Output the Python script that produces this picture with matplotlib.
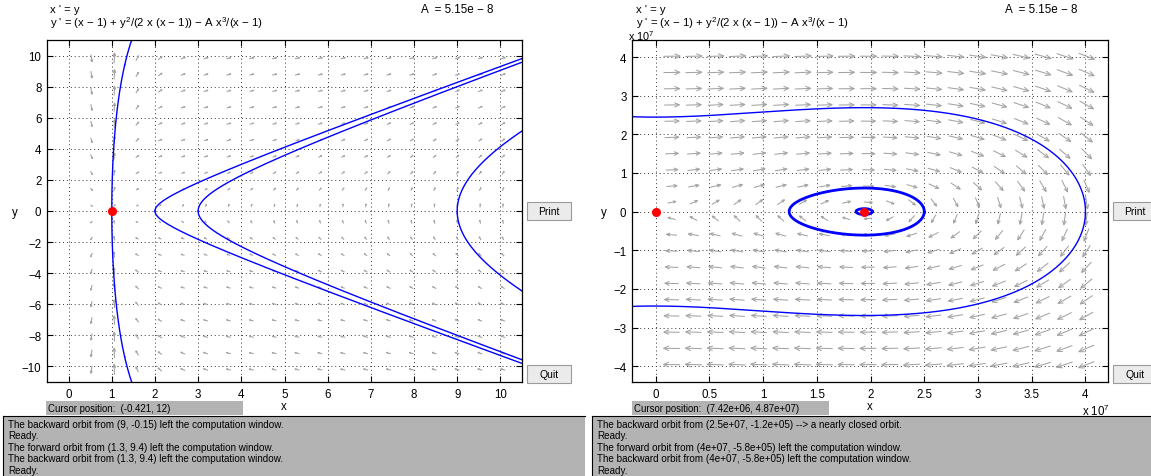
#!/usr/bin/env python3

"""
Two pplane phase-plane windows side by side, same system, two zoom levels.
"""

import math
import numpy as np
import matplotlib
matplotlib.use("Agg")

import matplotlib.pyplot as plt
from matplotlib.collections import LineCollection
from matplotlib.patches import Rectangle

# system parameter shown on the chart
A_PARAM = 5.15e-8

# display windows (right panel in real units, shown as x 10^7)
LEFT_XLIM = (-0.5, 10.5)
LEFT_YLIM = (-11.0, 11.0)
RIGHT_XLIM = (-0.22e7, 4.21e7)
RIGHT_YLIM = (-4.41e7, 4.44e7)

# ticks
LEFT_XTICKS = list(range(0, 11))
LEFT_YTICKS = list(range(-10, 11, 2))
RIGHT_XTICKS = [0, 0.5, 1, 1.5, 2, 2.5, 3, 3.5, 4]
RIGHT_YTICKS = [-4, -3, -2, -1, 0, 1, 2, 3, 4]

# orbit start points
LEFT_SEEDS = [(9.0, -0.15), (2.0, 0.0), (3.0, 0.0), (1.3, 9.4), (1.3, -9.4)]
RIGHT_SEEDS = [(4.0e7, -5.8e5)]
RIGHT_CLOSED_SEEDS = [(2.5e7, -1.2e5), (2.017e7, 0.0)]

# equilibrium points (red dots)
LEFT_EQ = [(1.0, 0.0)]
RIGHT_EQ = [(0.0, 0.0), (1.942e7, 0.0)]

# direction field grid
LEFT_GX = np.linspace(0.53, 10.06, 19)
LEFT_GY = np.linspace(-10.2, 9.83, 20)
RIGHT_GX = np.linspace(0.15e7, 4.01e7, 20)
RIGHT_GY = np.linspace(-3.96e7, 4.02e7, 20)

# text panels
HEADER_1 = "x ' = y"
HEADER_2 = "y ' = (x \u2212 1) + y$^2$/(2 x (x \u2212 1)) \u2212 A x$^3$/(x \u2212 1)"
HEADER_A = "A  = 5.15e \u2212 8"
LEFT_CURSOR = "Cursor position:  (-0.421, 12)"
RIGHT_CURSOR = "Cursor position:  (7.42e+06, 4.87e+07)"
LEFT_MSG = ["The backward orbit from (9, -0.15) left the computation window.",
            "Ready.",
            "The forward orbit from (1.3, 9.4) left the computation window.",
            "The backward orbit from (1.3, 9.4) left the computation window.",
            "Ready."]
RIGHT_MSG = ["The backward orbit from (2.5e+07, -1.2e+05) --> a nearly closed orbit.",
             "Ready.",
             "The forward orbit from (4e+07, -5.8e+05) left the computation window.",
             "The backward orbit from (4e+07, -5.8e+05) left the computation window.",
             "Ready."]

W, H = 1151, 477
PANEL_GREY = "#b3b3b3"
ARROW_GREY = "#a3a3a3"

plt.rcParams["font.family"] = ["Liberation Sans", "DejaVu Sans"]
plt.rcParams["mathtext.fontset"] = "custom"
plt.rcParams["mathtext.rm"] = "Liberation Sans"
plt.rcParams["mathtext.it"] = "Liberation Sans"


def vfield(x, y):
    return y, (x - 1) + y * y / (2 * x * (x - 1)) - A_PARAM * x ** 3 / (x - 1)


def trace(seed, sign, xlim, ylim, stops=(), closed=False, ds=0.001, nmax=9000):
    # RK4 along normalised arc length in window units
    xr = xlim[1] - xlim[0]
    yr = ylim[1] - ylim[0]

    def g(u, v):
        fx, fy = vfield(xlim[0] + u * xr, ylim[0] + v * yr)
        a, b = fx / xr, fy / yr
        n = math.hypot(a, b)
        if n == 0 or not math.isfinite(n):
            return None
        return sign * a / n, sign * b / n

    u = (seed[0] - xlim[0]) / xr
    v = (seed[1] - ylim[0]) / yr
    u0, v0 = u, v
    stops_n = [((sx - xlim[0]) / xr, (sy - ylim[0]) / yr) for sx, sy in stops]
    us, vs = [u], [v]
    for i in range(nmax):
        k1 = g(u, v)
        if k1 is None:
            break
        k2 = g(u + ds / 2 * k1[0], v + ds / 2 * k1[1])
        if k2 is None:
            break
        k3 = g(u + ds / 2 * k2[0], v + ds / 2 * k2[1])
        if k3 is None:
            break
        k4 = g(u + ds * k3[0], v + ds * k3[1])
        if k4 is None:
            break
        u += ds / 6 * (k1[0] + 2 * k2[0] + 2 * k3[0] + k4[0])
        v += ds / 6 * (k1[1] + 2 * k2[1] + 2 * k3[1] + k4[1])
        us.append(u)
        vs.append(v)
        if u < -0.01 or u > 1.01 or v < -0.01 or v > 1.01:
            break
        if any(math.hypot(u - a, v - b) < 0.002 for a, b in stops_n):
            break
        if closed and i > 60 and math.hypot(u - u0, v - v0) < 1.5 * ds:
            break
    xs = xlim[0] + np.array(us) * xr
    ys = ylim[0] + np.array(vs) * yr
    return xs, ys


def arrow_lines(gx, gy, xlim, ylim, ax_px, lmax, power=0.25):
    # matlab-like open arrows, length compressed with magnitude
    sx = ax_px[0] / (xlim[1] - xlim[0])
    sy = ax_px[1] / (ylim[1] - ylim[0])
    X, Y = np.meshgrid(gx, gy)
    with np.errstate(all="ignore"):
        fx, fy = vfield(X, Y)
    px, py = fx * sx, fy * sy
    m = np.hypot(px, py)
    ok = np.isfinite(m) & (m > 0)
    mmax = m[ok].max()
    segs = []
    ang = math.radians(24)
    for cx, cy, ax_, ay_, mm in zip(X[ok], Y[ok], px[ok], py[ok], m[ok]):
        L = lmax * (mm / mmax) ** power
        ux, uy = ax_ / mm, ay_ / mm
        tx, ty = -0.5 * L * ux, -0.5 * L * uy
        hx, hy = 0.5 * L * ux, 0.5 * L * uy
        hb = 0.36 * L
        b1 = (hx - hb * (ux * math.cos(ang) - uy * math.sin(ang)),
              hy - hb * (ux * math.sin(ang) + uy * math.cos(ang)))
        b2 = (hx - hb * (ux * math.cos(ang) + uy * math.sin(ang)),
              hy - hb * (-ux * math.sin(ang) + uy * math.cos(ang)))
        to_d = lambda p: (cx + p[0] / sx, cy + p[1] / sy)
        segs.append([to_d((tx, ty)), to_d((hx, hy))])
        segs.append([to_d(b1), to_d((hx, hy)), to_d(b2)])
    return segs


def fx_(px):
    return px / W


def fy_(py):
    return 1 - py / H


def style_axes(ax, xticks, yticks):
    ax.set_xticks(xticks)
    ax.set_yticks(yticks)
    ax.tick_params(direction="in", top=True, right=True, length=4, width=0.8,
                   labelsize=8.3, pad=4)
    ax.grid(True, color="#333333", linestyle=(0, (1, 3)), linewidth=0.7)
    for s in ax.spines.values():
        s.set_linewidth(0.9)
        s.set_zorder(5)


def button(fig, x0, y0, x1, y1, label):
    fig.add_artist(Rectangle((fx_(x0), fy_(y1)), (x1 - x0) / W, (y1 - y0) / H,
                             transform=fig.transFigure, facecolor="#ebebeb",
                             edgecolor="#9a9a9a", linewidth=0.8))
    fig.text(fx_((x0 + x1) / 2), fy_((y0 + y1) / 2), label, fontsize=7.5,
             ha="center", va="center")


def text_panels(fig, x0, head_a_x, cursor_x0, cursor_x1, msg_x0, msg_x1, cursor, msg):
    fig.text(fx_(x0), fy_(10), HEADER_1, fontsize=8.2, va="center")
    fig.text(fx_(x0), fy_(23), HEADER_2, fontsize=8.2, va="center")
    fig.text(fx_(head_a_x), fy_(10), HEADER_A, fontsize=8.4, va="center")
    fig.add_artist(Rectangle((fx_(cursor_x0), fy_(416)), (cursor_x1 - cursor_x0) / W, 14.5 / H,
                             transform=fig.transFigure, facecolor=PANEL_GREY,
                             edgecolor="none"))
    fig.text(fx_(cursor_x0 + 2), fy_(409), cursor, fontsize=6.9, va="center")
    fig.add_artist(Rectangle((fx_(msg_x0), 0), (msg_x1 - msg_x0) / W, (477 - 416.5) / H,
                             transform=fig.transFigure, facecolor=PANEL_GREY,
                             edgecolor="none"))
    fig.add_artist(plt.Line2D([fx_(msg_x0), fx_(msg_x1)], [fy_(416.5)] * 2,
                              transform=fig.transFigure, color="k", linewidth=0.8))
    fig.add_artist(plt.Line2D([fx_(msg_x0)] * 2, [0, fy_(416.5)],
                              transform=fig.transFigure, color="k", linewidth=0.8))
    for i, line in enumerate(msg):
        fig.text(fx_(msg_x0 + 5), fy_(425 + 11.4 * i), line, fontsize=7.1, va="center")


def main():
    fig = plt.figure(figsize=(W / 100, H / 100), dpi=100)

    # left window
    axl = fig.add_axes([fx_(47), fy_(383), 475 / W, 342 / H])
    axl.set_xlim(LEFT_XLIM)
    axl.set_ylim(LEFT_YLIM)
    style_axes(axl, LEFT_XTICKS, LEFT_YTICKS)
    segs = arrow_lines(LEFT_GX, LEFT_GY, LEFT_XLIM, LEFT_YLIM, (475, 342), 10.5)
    axl.add_collection(LineCollection(segs, colors=ARROW_GREY, linewidths=0.8, zorder=2))
    for seed in LEFT_SEEDS:
        for sign in (1, -1):
            xs, ys = trace(seed, sign, LEFT_XLIM, LEFT_YLIM, stops=LEFT_EQ)
            axl.plot(xs, ys, color="#0000ff", linewidth=1.0, zorder=3)
    for ex, ey in LEFT_EQ:
        axl.plot(ex, ey, "o", color="#ff0000", markersize=5.5, zorder=4)

    # right window, plotted in units of 1e7
    sc = 1e7
    axr = fig.add_axes([fx_(632), fy_(383), 476 / W, 342 / H])
    rxl = (RIGHT_XLIM[0] / sc, RIGHT_XLIM[1] / sc)
    ryl = (RIGHT_YLIM[0] / sc, RIGHT_YLIM[1] / sc)
    axr.set_xlim(rxl)
    axr.set_ylim(ryl)
    style_axes(axr, RIGHT_XTICKS, RIGHT_YTICKS)
    axr.set_xticklabels(["%g" % t for t in RIGHT_XTICKS])
    segs = arrow_lines(RIGHT_GX, RIGHT_GY, RIGHT_XLIM, RIGHT_YLIM, (476, 342), 17)
    segs = [[(p[0] / sc, p[1] / sc) for p in s] for s in segs]
    axr.add_collection(LineCollection(segs, colors=ARROW_GREY, linewidths=0.75, zorder=2))
    for seed in RIGHT_SEEDS:
        for sign in (1, -1):
            xs, ys = trace(seed, sign, RIGHT_XLIM, RIGHT_YLIM)
            axr.plot(xs / sc, ys / sc, color="#0000ff", linewidth=1.0, zorder=3)
    for seed in RIGHT_CLOSED_SEEDS:
        xs, ys = trace(seed, -1, RIGHT_XLIM, RIGHT_YLIM, closed=True, ds=0.0004, nmax=20000)
        axr.plot(xs / sc, ys / sc, color="#0000ff", linewidth=2.0, zorder=3)
    for ex, ey in RIGHT_EQ:
        axr.plot(ex / sc, ey / sc, "o", color="#ff0000", markersize=5.5, zorder=4)

    # axis labels and exponent notes
    fig.text(fx_(15), fy_(213), "y", fontsize=8.3, ha="center", va="center")
    fig.text(fx_(284), fy_(407), "x", fontsize=8.3, ha="center", va="center")
    fig.text(fx_(604), fy_(213), "y", fontsize=8.3, ha="center", va="center")
    fig.text(fx_(870), fy_(407), "x", fontsize=8.3, ha="center", va="center")
    fig.text(fx_(628), fy_(36.5), "x 10$^7$", fontsize=7.8, va="center")
    fig.text(fx_(1082), fy_(411), "x 10$^7$", fontsize=8.3, va="center")

    # header, cursor and message panels
    text_panels(fig, 50, 421, 46, 243, 3, 585, LEFT_CURSOR, LEFT_MSG)
    text_panels(fig, 636, 1005, 632, 829, 592, 1151, RIGHT_CURSOR, RIGHT_MSG)

    # buttons
    button(fig, 527, 203, 571, 221, "Print")
    button(fig, 527, 366, 571, 384, "Quit")
    button(fig, 1113, 203, 1157, 221, "Print")
    button(fig, 1113, 366, 1157, 384, "Quit")

    fig.savefig("out.png", dpi=100)
    print("Graph created.")


if __name__ == "__main__":
    main()
